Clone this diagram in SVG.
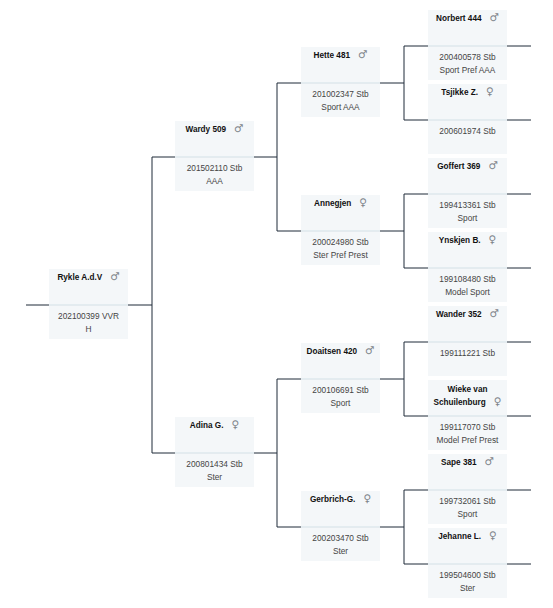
<svg xmlns="http://www.w3.org/2000/svg" width="553" height="608" viewBox="0 0 553 608">
<style>
.box{fill:#f4f7f9}
.div{stroke:#d3e0e6;stroke-width:1}
.con{stroke:#1f2b38;stroke-width:1;fill:none}
.nm{font-family:"Liberation Sans",Arial,sans-serif;font-size:8.2px;font-weight:bold;fill:#111}
.g{font-family:"DejaVu Sans",sans-serif;font-size:10.5px;font-weight:normal;fill:#7d8389}
.dt{font-family:"Liberation Sans",Arial,sans-serif;font-size:8.3px;fill:#444}
</style>
<rect width="553" height="608" fill="#ffffff"/>
<g id="connectors" class="con">
<path d="M26 305H49M128 305H152M152 157V453M152 157H175M152 453H175"/>
<path d="M254 157H277M277 83V231M277 83H301M277 231H301"/>
<path d="M254 453H277M277 379V527M277 379H301M277 527H301"/>
<path d="M380 83H404M404 46V120M404 46H428M404 120H428"/>
<path d="M380 231H404M404 194V268M404 194H428M404 268H428"/>
<path d="M380 379H404M404 342V416M404 342H428M404 416H428"/>
<path d="M380 527H404M404 490V564M404 490H428M404 564H428"/>
<path d="M507 46H531M507 120H531M507 194H531M507 268H531M507 342H531M507 416H531M507 490H531M507 564H531"/>
</g>
<g id="rykle"><rect class="box" x="49" y="269" width="79" height="70"/><line class="div" x1="49" y1="305" x2="128" y2="305"/><text x="88.5" y="280" text-anchor="middle" class="nm">Rykle A.d.V<tspan class="g" dx="8">♂</tspan></text><text x="88.5" y="318.5" text-anchor="middle" class="dt">202100399 VVR</text><text x="88.5" y="331.5" text-anchor="middle" class="dt">H</text></g>
<g id="wardy"><rect class="box" x="175" y="121" width="79" height="70"/><line class="div" x1="175" y1="157" x2="254" y2="157"/><text x="214.5" y="132" text-anchor="middle" class="nm">Wardy 509<tspan class="g" dx="8">♂</tspan></text><text x="214.5" y="171" text-anchor="middle" class="dt">201502110 Stb</text><text x="214.5" y="184" text-anchor="middle" class="dt">AAA</text></g>
<g id="adina"><rect class="box" x="175" y="417" width="79" height="70"/><line class="div" x1="175" y1="453" x2="254" y2="453"/><text x="214.5" y="428" text-anchor="middle" class="nm">Adina G.<tspan class="g" dx="8">♀</tspan></text><text x="214.5" y="467" text-anchor="middle" class="dt">200801434 Stb</text><text x="214.5" y="480" text-anchor="middle" class="dt">Ster</text></g>
<g id="hette"><rect class="box" x="301" y="47" width="79" height="70"/><line class="div" x1="301" y1="83" x2="380" y2="83"/><text x="340.5" y="58" text-anchor="middle" class="nm">Hette 481<tspan class="g" dx="8">♂</tspan></text><text x="340.5" y="97" text-anchor="middle" class="dt">201002347 Stb</text><text x="340.5" y="110" text-anchor="middle" class="dt">Sport AAA</text></g>
<g id="annegjen"><rect class="box" x="301" y="195" width="79" height="70"/><line class="div" x1="301" y1="231" x2="380" y2="231"/><text x="340.5" y="206" text-anchor="middle" class="nm">Annegjen<tspan class="g" dx="8">♀</tspan></text><text x="340.5" y="245" text-anchor="middle" class="dt">200024980 Stb</text><text x="340.5" y="258" text-anchor="middle" class="dt">Ster Pref Prest</text></g>
<g id="doaitsen"><rect class="box" x="301" y="343" width="79" height="70"/><line class="div" x1="301" y1="379" x2="380" y2="379"/><text x="340.5" y="354" text-anchor="middle" class="nm">Doaitsen 420<tspan class="g" dx="8">♂</tspan></text><text x="340.5" y="393" text-anchor="middle" class="dt">200106691 Stb</text><text x="340.5" y="406" text-anchor="middle" class="dt">Sport</text></g>
<g id="gerbrich"><rect class="box" x="301" y="491" width="79" height="70"/><line class="div" x1="301" y1="527" x2="380" y2="527"/><text x="340.5" y="502" text-anchor="middle" class="nm">Gerbrich-G.<tspan class="g" dx="8">♀</tspan></text><text x="340.5" y="541" text-anchor="middle" class="dt">200203470 Stb</text><text x="340.5" y="554" text-anchor="middle" class="dt">Ster</text></g>
<g id="norbert"><rect class="box" x="428" y="10" width="79" height="70"/><line class="div" x1="428" y1="46" x2="507" y2="46"/><text x="467.5" y="21" text-anchor="middle" class="nm">Norbert 444<tspan class="g" dx="8">♂</tspan></text><text x="467.5" y="60" text-anchor="middle" class="dt">200400578 Stb</text><text x="467.5" y="73" text-anchor="middle" class="dt">Sport Pref AAA</text></g>
<g id="tsjikke"><rect class="box" x="428" y="84" width="79" height="70"/><line class="div" x1="428" y1="120" x2="507" y2="120"/><text x="467.5" y="95" text-anchor="middle" class="nm">Tsjikke Z.<tspan class="g" dx="8">♀</tspan></text><text x="467.5" y="134" text-anchor="middle" class="dt">200601974 Stb</text></g>
<g id="goffert"><rect class="box" x="428" y="158" width="79" height="70"/><line class="div" x1="428" y1="194" x2="507" y2="194"/><text x="467.5" y="169" text-anchor="middle" class="nm">Goffert 369<tspan class="g" dx="8">♂</tspan></text><text x="467.5" y="208" text-anchor="middle" class="dt">199413361 Stb</text><text x="467.5" y="221" text-anchor="middle" class="dt">Sport</text></g>
<g id="ynskjen"><rect class="box" x="428" y="232" width="79" height="70"/><line class="div" x1="428" y1="268" x2="507" y2="268"/><text x="467.5" y="243" text-anchor="middle" class="nm">Ynskjen B.<tspan class="g" dx="8">♀</tspan></text><text x="467.5" y="282" text-anchor="middle" class="dt">199108480 Stb</text><text x="467.5" y="295" text-anchor="middle" class="dt">Model Sport</text></g>
<g id="wander"><rect class="box" x="428" y="306" width="79" height="70"/><line class="div" x1="428" y1="342" x2="507" y2="342"/><text x="467.5" y="317" text-anchor="middle" class="nm">Wander 352<tspan class="g" dx="8">♂</tspan></text><text x="467.5" y="356" text-anchor="middle" class="dt">199111221 Stb</text></g>
<g id="wieke"><rect class="box" x="428" y="380" width="79" height="70"/><line class="div" x1="428" y1="416" x2="507" y2="416"/><text x="467.5" y="392" text-anchor="middle" class="nm">Wieke van</text><text x="467.5" y="405" text-anchor="middle" class="nm">Schuilenburg<tspan class="g" dx="8">♀</tspan></text><text x="467.5" y="430" text-anchor="middle" class="dt">199117070 Stb</text><text x="467.5" y="443" text-anchor="middle" class="dt">Model Pref Prest</text></g>
<g id="sape"><rect class="box" x="428" y="454" width="79" height="70"/><line class="div" x1="428" y1="490" x2="507" y2="490"/><text x="467.5" y="465" text-anchor="middle" class="nm">Sape 381<tspan class="g" dx="8">♂</tspan></text><text x="467.5" y="504" text-anchor="middle" class="dt">199732061 Stb</text><text x="467.5" y="517" text-anchor="middle" class="dt">Sport</text></g>
<g id="jehanne"><rect class="box" x="428" y="528" width="79" height="70"/><line class="div" x1="428" y1="564" x2="507" y2="564"/><text x="467.5" y="539" text-anchor="middle" class="nm">Jehanne L.<tspan class="g" dx="8">♀</tspan></text><text x="467.5" y="578" text-anchor="middle" class="dt">199504600 Stb</text><text x="467.5" y="591" text-anchor="middle" class="dt">Ster</text></g>
</svg>
